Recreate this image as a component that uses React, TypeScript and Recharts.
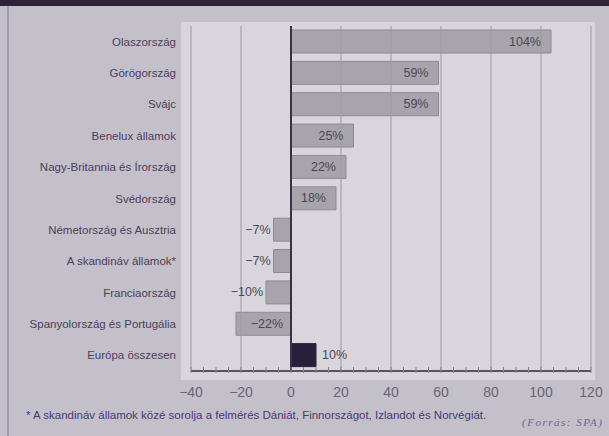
import React from 'react';
import { BarChart, Bar, XAxis, YAxis, ReferenceLine, Cell, LabelList } from 'recharts';

const categories = [
  'Olaszország',
  'Görögország',
  'Svájc',
  'Benelux államok',
  'Nagy-Britannia és Írország',
  'Svédország',
  'Németország és Ausztria',
  'A skandináv államok*',
  'Franciaország',
  'Spanyolország és Portugália',
  'Európa összesen',
];
const values = [104, 59, 59, 25, 22, 18, -7, -7, -10, -22, 10];
const totalCategory = 'Európa összesen';
const xTicks = [-40, -35, -30, -25, -20, -15, -10, -5, 0, 5, 10, 15, 20, 25, 30, 35, 40, 45, 50, 55, 60, 65, 70, 75, 80, 85, 90, 95, 100, 105, 110, 115, 120];
const majorTicks = [-40, -20, 0, 20, 40, 60, 80, 100, 120];
const gridLines = [-40, -20, 20, 40, 60, 80, 100, 120];
const footnote = '* A skandináv államok közé sorolja a felmérés Dániát, Finnországot, Izlandot és Norvégiát.';
const source = '(Forrás: SPA)';

const data = categories.map((name, i) => ({ name, value: values[i] }));

const fmt = (v: number) => (v < 0 ? '\u2212' + Math.abs(v) : String(v));

const XTick = (props: any) => {
  const { x, y, payload } = props;
  const v = payload.value;
  const major = majorTicks.includes(v);
  return (
    <g>
      <line x1={x} x2={x} y1={y - 4} y2={y + 2} stroke="#8a8490" strokeWidth={1} />
      {major && (
        <text
          x={x}
          y={y + 21}
          textAnchor="middle"
          dominantBaseline="central"
          fontSize={14}
          fontFamily="Liberation Sans, Arial, sans-serif"
          fill="#6a6474"
        >
          {fmt(v)}
        </text>
      )}
    </g>
  );
};

const ValueLabel = (props: any) => {
  const { x, y, width, height, value } = props;
  const left = Math.min(x, x + width);
  const right = Math.max(x, x + width);
  const cy = y + height / 2;
  let tx = right - 10;
  let anchor: 'start' | 'end' | 'middle' = 'end';
  if (value >= 15) {
    tx = right - 10;
    anchor = 'end';
  } else if (value > 0) {
    tx = right + 6;
    anchor = 'start';
  } else if (value > -15) {
    tx = left - 3;
    anchor = 'end';
  } else {
    tx = right - 8;
    anchor = 'end';
  }
  const label = (value < 0 ? '\u2212' + Math.abs(value) : String(value)) + '%';
  return (
    <text
      x={tx}
      y={cy}
      textAnchor={anchor}
      dominantBaseline="central"
      fontSize={12.5}
      fontFamily="Liberation Sans, Arial, sans-serif"
      fill="#4e4556"
    >
      {label}
    </text>
  );
};

export default function App() {
  return (
    <div
      style={{
        position: 'absolute',
        left: 0,
        top: 0,
        width: 609,
        height: 436,
        background: '#c4c0c9',
        overflow: 'hidden',
        fontFamily: 'Liberation Sans, Arial, sans-serif',
      }}
    >
      <div style={{ position: 'absolute', left: 0, top: 0, width: 609, height: 6, background: '#2e2339' }} />
      <div style={{ position: 'absolute', left: 7, top: 6, width: 2, height: 430, background: '#a49db0' }} />
      <div style={{ position: 'absolute', left: 181, top: 22, width: 414, height: 358, background: '#d8d6dc' }} />
      <div style={{ position: 'absolute', left: 0, top: 0 }}>
        <BarChart
          layout="vertical"
          width={609}
          height={436}
          data={data}
          margin={{ top: 26, right: 18, bottom: 0, left: 8 }}
          barSize={23}
        >
          {gridLines.map((g) => (
            <ReferenceLine key={g} x={g} stroke="#9d98a4" strokeWidth={1} ifOverflow="extendDomain" />
          ))}
          <XAxis
            type="number"
            domain={[-40, 120]}
            ticks={xTicks}
            interval={0}
            height={65}
            tickSize={0}
            tickMargin={0}
            tickLine={false}
            tick={<XTick />}
            axisLine={{ stroke: '#2e2838', strokeWidth: 1.5 }}
            allowDataOverflow
          />
          <YAxis
            type="category"
            dataKey="name"
            width={183}
            axisLine={false}
            tickLine={false}
            tickSize={0}
            tickMargin={15}
            interval={0}
            tick={{ fontSize: 11.5, fill: '#4a3e5c', fontFamily: 'Liberation Sans, Arial, sans-serif' }}
          />
          <Bar dataKey="value" isAnimationActive={false} stroke="#8f8996" strokeWidth={1}>
            {data.map((d) => (
              <Cell
                key={d.name}
                fill={d.name === totalCategory ? '#2a1f3a' : '#a8a4ac'}
                stroke={d.name === totalCategory ? '#2a1f3a' : '#8f8996'}
              />
            ))}
            <LabelList dataKey="value" content={<ValueLabel />} />
          </Bar>
          <ReferenceLine x={0} stroke="#3b3049" strokeWidth={2} />
        </BarChart>
      </div>
      <div
        style={{
          position: 'absolute',
          left: 26,
          top: 409,
          fontSize: 11.5,
          color: '#44387a',
          whiteSpace: 'nowrap',
        }}
      >
        {footnote}
      </div>
      <div
        style={{
          position: 'absolute',
          left: 522,
          top: 416,
          fontSize: 11,
          fontStyle: 'italic',
          letterSpacing: 1.5,
          fontFamily: 'Liberation Serif, Times New Roman, serif',
          color: '#6d6590',
          whiteSpace: 'nowrap',
        }}
      >
        {source}
      </div>
    </div>
  );
}
